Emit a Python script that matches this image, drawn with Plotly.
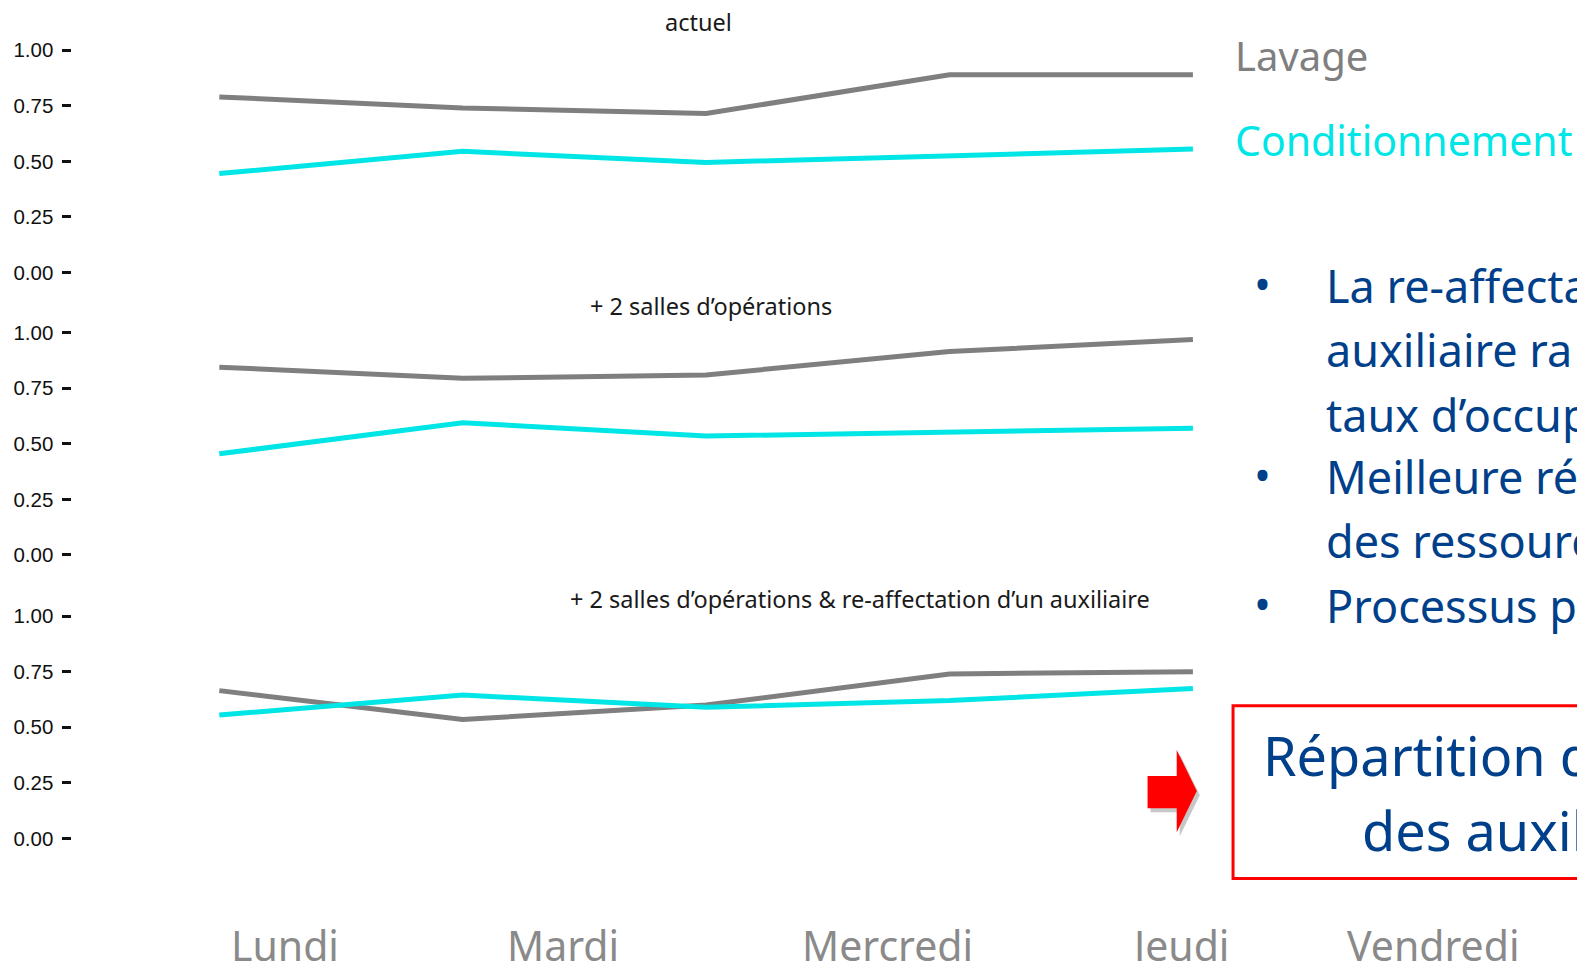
import plotly.graph_objects as go

W, H = 1577, 961

# ---------------- data ----------------
days = ["Lundi", "Mardi", "Mercredi", "Jeudi", "Vendredi"]
series_names = ["Lavage", "Conditionnement"]
panel_titles = [
    "actuel",
    "+ 2 salles d’opérations",
    "+ 2 salles d’opérations & re-affectation d’un auxiliaire",
]
lavage_actuel = [0.79, 0.74, 0.715, 0.89, 0.89]
cond_actuel = [0.445, 0.545, 0.495, 0.525, 0.555]
lavage_2salles = [0.845, 0.795, 0.81, 0.915, 0.97]
cond_2salles = [0.455, 0.595, 0.535, 0.55, 0.57]
lavage_reaff = [0.665, 0.535, 0.60, 0.74, 0.75]
cond_reaff = [0.555, 0.645, 0.59, 0.62, 0.675]
ytick_vals = [0, 0.25, 0.5, 0.75, 1.0]
ytick_labels = ["0.00", "0.25", "0.50", "0.75", "1.00"]
bullet_lines = ["La re-affecta", "auxiliaire ra", "taux d’occup",
                "Meilleure ré", "des ressourc", "Processus p"]
box_lines = ["Répartition d", "des auxil"]

panels = [
    (lavage_actuel, cond_actuel),
    (lavage_2salles, cond_2salles),
    (lavage_reaff, cond_reaff),
]

GRAY = "#7f7f7f"
CYAN = "#00E6E6"
BLUE = "#00408A"
RED = "#FF0000"
FONT = "Noto Sans"

# layout positions below were measured on a 1568x956 view; scale to full size
SX = 1577 / 1568
SY = 961 / 956


def px(x):
    return x * SX / W


def py(y):
    return 1 - y * SY / H


fig = go.Figure()

# pixel rows of the 1.00 and 0.00 ticks of each panel
rows = [(50, 271), (331, 552), (613, 834)]
PAD = 0.1

for i, ((lav, cond), (t, b)) in enumerate(zip(panels, rows)):
    suffix = "" if i == 0 else str(i + 1)
    fig.add_trace(go.Scatter(x=days, y=lav, mode="lines", name=series_names[0],
                             line=dict(color=GRAY, width=5), showlegend=False,
                             xaxis="x" + suffix, yaxis="y" + suffix))
    fig.add_trace(go.Scatter(x=days, y=cond, mode="lines", name=series_names[1],
                             line=dict(color=CYAN, width=5), showlegend=False,
                             xaxis="x" + suffix, yaxis="y" + suffix))
    span = b - t
    top = t - PAD * span
    bot = b + PAD * span
    fig.layout["xaxis" + suffix] = dict(
        domain=[px(72), 1], range=[-0.6035, 5.578], showgrid=False,
        zeroline=False, showline=False, showticklabels=False, ticks="",
        anchor="y" + suffix, fixedrange=True,
    )
    fig.layout["yaxis" + suffix] = dict(
        domain=[py(bot), py(top)], range=[-PAD, 1 + PAD], showgrid=False,
        zeroline=False, showline=False, tickmode="array", tickvals=ytick_vals,
        ticktext=ytick_labels, ticks="outside", ticklen=9, tickwidth=2.5,
        tickcolor="#111111", ticklabelstandoff=5,
        tickfont=dict(family="Liberation Sans", size=20.5, color="#111111"),
        anchor="x" + suffix, fixedrange=True,
    )

annotations = []

# panel titles
title_pos = [(695, 22), (707, 304), (855, 596)]
for txt, (x, y) in zip(panel_titles, title_pos):
    annotations.append(dict(text=txt, x=px(x), y=py(y), xref="paper", yref="paper",
                            xanchor="center", yanchor="middle", showarrow=False,
                            font=dict(family=FONT, size=23.5, color="#1a1a1a")))

# series labels
annotations.append(dict(text=series_names[0], x=px(1226), y=py(55), xref="paper",
                        yref="paper", xanchor="left", yanchor="middle", showarrow=False,
                        font=dict(family=FONT, size=40, color=GRAY)))
annotations.append(dict(text=series_names[1], x=px(1226), y=py(139), xref="paper",
                        yref="paper", xanchor="left", yanchor="middle", showarrow=False,
                        font=dict(family=FONT, size=41, color=CYAN)))

# bullets
line_y = [284, 348, 412, 474, 538, 602]
bullet_idx = [0, 3, 5]
for k, (txt, y) in enumerate(zip(bullet_lines, line_y)):
    annotations.append(dict(text=txt, x=px(1316), y=py(y), xref="paper", yref="paper",
                            xanchor="left", yanchor="middle", showarrow=False,
                            font=dict(family=FONT, size=45, color=BLUE)))
    if k in bullet_idx:
        annotations.append(dict(text="•", x=px(1255), y=py(y - 2), xref="paper",
                                yref="paper", xanchor="center", yanchor="middle",
                                showarrow=False,
                                font=dict(family=FONT, size=45, color=BLUE)))

# red box text
annotations.append(dict(text=box_lines[0], x=px(1254), y=py(751), xref="paper",
                        yref="paper", xanchor="left", yanchor="middle", showarrow=False,
                        font=dict(family=FONT, size=54, color=BLUE)))
annotations.append(dict(text=box_lines[1], x=px(1352), y=py(826), xref="paper",
                        yref="paper", xanchor="left", yanchor="middle", showarrow=False,
                        font=dict(family=FONT, size=54, color=BLUE)))

# bottom day labels
day_x = [283, 560, 882, 1173, 1425]
for d, x in zip(days, day_x):
    annotations.append(dict(text=d, x=px(x), y=py(940), xref="paper", yref="paper",
                            xanchor="center", yanchor="middle", showarrow=False,
                            font=dict(family=FONT, size=41, color="#8a8a8a")))

fig.update_layout(annotations=annotations)


def path(points):
    return "M " + " L ".join(f"{px(x)},{py(y)}" for x, y in points) + " Z"


arrow = [(1141, 772), (1170, 772), (1170, 746), (1190, 787),
         (1170, 828), (1170, 804), (1141, 804)]
shadow = [(x + 3, y + 4) for x, y in arrow]

shapes = [
    dict(type="path", path=path(shadow), xref="paper", yref="paper",
         fillcolor="rgba(0,0,0,0.22)", line=dict(width=0)),
    dict(type="path", path=path(arrow), xref="paper", yref="paper",
         fillcolor=RED, line=dict(width=0)),
    dict(type="rect", x0=px(1226), x1=px(1600), y0=py(874), y1=py(702),
         xref="paper", yref="paper", line=dict(color=RED, width=3),
         fillcolor="rgba(0,0,0,0)"),
]
fig.update_layout(shapes=shapes)

fig.update_layout(
    width=W, height=H, margin=dict(l=0, r=0, t=0, b=0, pad=0),
    paper_bgcolor="white", plot_bgcolor="white", showlegend=False,
    font=dict(family=FONT),
)

fig.write_html(
    "out.html",
    config={"displayModeBar": False},
    post_script="document.body.style.margin='0';document.body.style.overflow='hidden';",
)
